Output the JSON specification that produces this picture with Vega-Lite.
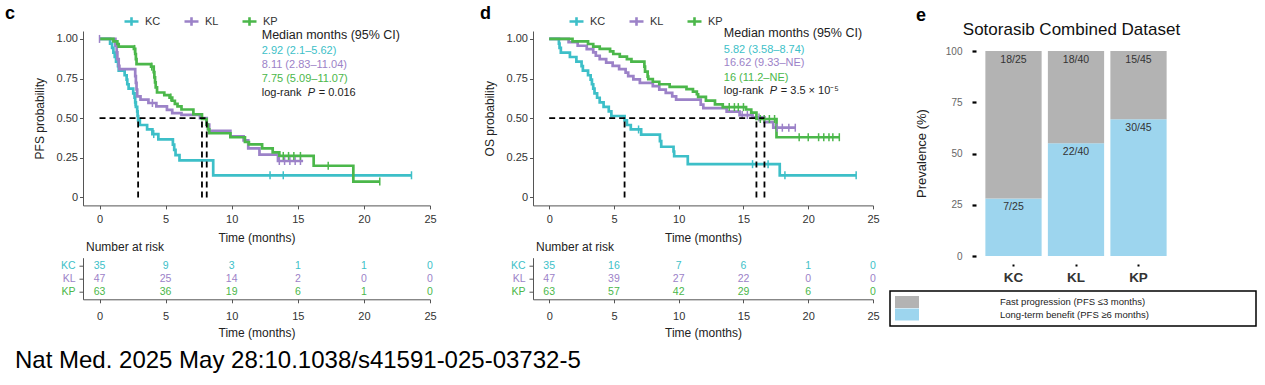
{
  "$schema": "https://vega.github.io/schema/vega-lite/v6.json",
  "background": "white",
  "padding": {"left": 5, "top": 5, "right": 5, "bottom": 5},
  "config": {
    "view": {"stroke": null},
    "font": "Liberation Sans",
    "axis": {"grid": false, "domainColor": "#555", "tickColor": "#555", "labelColor": "#333", "labelFontSize": 11, "titleFontSize": 12, "titleFontWeight": "normal", "titleColor": "#222", "tickSize": 3.5, "labelFont": "Liberation Sans", "titleFont": "Liberation Sans"}
  },
  "title": {"text": "Nat Med. 2025 May 28:10.1038/s41591-025-03732-5", "orient": "bottom", "anchor": "start", "frame": "group", "dx": -68, "offset": 10, "fontSize": 24, "fontWeight": "normal", "color": "#000", "font": "Liberation Sans"},
  "columns": 3,
  "bounds": "flush",
  "align": "each",
  "spacing": {"row": 1.7, "column": 103},
  "resolve": {"scale": {"color": "independent"}, "legend": {"color": "independent"}},
  "concat": [
    {
      "width": 347, "height": 174.4,
      "title": {"text": "c", "anchor": "start", "frame": "group", "dx": -78, "dy": 12, "offset": 2, "fontSize": 18, "fontWeight": "bold", "color": "#000"},
      "encoding": {
        "x": {"field": "t", "type": "quantitative", "scale": {"domain": [-1.25, 25], "nice": false, "zero": false}, "axis": {"values": [0, 5, 10, 15, 20, 25], "title": "Time (months)", "labelFlush": false, "labelPadding": 5, "titlePadding": 8}},
        "y": {"field": "s", "type": "quantitative", "scale": {"domain": [-0.05, 1.05], "nice": false, "zero": false}, "axis": {"values": [0, 0.25, 0.5, 0.75, 1], "labelExpr": "datum.value == 0 ? '0' : format(datum.value, '.2f')", "title": "PFS probability", "labelPadding": 2, "titlePadding": 10}}
      },
      "layer": [
        {"data": {"name": "pfs"}, "mark": {"type": "line", "interpolate": "step-after", "strokeWidth": 2.7},
         "encoding": {"color": {"field": "group", "type": "nominal", "scale": {"domain": ["KC", "KL", "KP"], "range": ["#3DBFC8", "#9C82C8", "#4BB74A"]},
           "legend": {"orient": "none", "legendX": 40, "legendY": -18, "direction": "horizontal", "title": null, "symbolType": "M-1,0H1M0,-0.6V0.6", "symbolSize": 196, "symbolStrokeWidth": 2.6, "labelFontSize": 11, "labelColor": "#333", "columnPadding": 18, "labelOffset": 5}}}},
        {"data": {"name": "pfs_cens"}, "mark": {"type": "point", "shape": "M0,-1V1", "size": 64, "strokeWidth": 1.5, "filled": false, "opacity": 1},
         "encoding": {"color": {"field": "group", "type": "nominal", "scale": {"domain": ["KC", "KL", "KP"], "range": ["#3DBFC8", "#9C82C8", "#4BB74A"]}}}},
        {"data": {"name": "pfs_med"}, "mark": {"type": "rule", "strokeDash": [6, 4], "strokeWidth": 1.8, "color": "#000"},
         "encoding": {"x2": {"field": "t2"}, "y2": {"field": "s2"}}},
        {"data": {"name": "pfs_txt"}, "transform": [{"filter": "datum.role === 'head'"}], "mark": {"type": "text", "align": "left", "baseline": "middle", "fontSize": 12.5, "color": "#222"}, "encoding": {"text": {"field": "text"}}},
        {"data": {"name": "pfs_txt"}, "transform": [{"filter": "datum.role === 'med'"}], "mark": {"type": "text", "align": "left", "baseline": "middle", "fontSize": 11},
         "encoding": {"text": {"field": "text"}, "color": {"field": "group", "type": "nominal", "scale": {"domain": ["KC", "KL", "KP"], "range": ["#3DBFC8", "#9C82C8", "#4BB74A"]}}}},
        {"data": {"name": "pfs_txt"}, "transform": [{"filter": "datum.role === 'lr1'"}], "mark": {"type": "text", "align": "left", "baseline": "middle", "fontSize": 11, "color": "#222"}, "encoding": {"text": {"field": "text"}}},
        {"data": {"name": "pfs_txt"}, "transform": [{"filter": "datum.role === 'lr2'"}], "mark": {"type": "text", "align": "left", "baseline": "middle", "fontSize": 11, "fontStyle": "italic", "dx": 46, "color": "#222"}, "encoding": {"text": {"field": "text"}}},
        {"data": {"name": "pfs_txt"}, "transform": [{"filter": "datum.role === 'lr3'"}], "mark": {"type": "text", "align": "left", "baseline": "middle", "fontSize": 11, "dx": 57, "color": "#222"}, "encoding": {"text": {"field": "text"}}}
      ]
    },
    {
      "width": 340, "height": 174.4,
      "title": {"text": "d", "anchor": "start", "frame": "group", "dx": -53, "dy": 12, "offset": 2, "fontSize": 18, "fontWeight": "bold", "color": "#000"},
      "encoding": {
        "x": {"field": "t", "type": "quantitative", "scale": {"domain": [-1.25, 25], "nice": false, "zero": false}, "axis": {"values": [0, 5, 10, 15, 20, 25], "title": "Time (months)", "labelFlush": false, "labelPadding": 5, "titlePadding": 8}},
        "y": {"field": "s", "type": "quantitative", "scale": {"domain": [-0.05, 1.05], "nice": false, "zero": false}, "axis": {"values": [0, 0.25, 0.5, 0.75, 1], "labelExpr": "datum.value == 0 ? '0' : format(datum.value, '.2f')", "title": "OS probability", "labelPadding": 2, "titlePadding": 10}}
      },
      "layer": [
        {"data": {"name": "os"}, "mark": {"type": "line", "interpolate": "step-after", "strokeWidth": 2.7},
         "encoding": {"color": {"field": "group", "type": "nominal", "scale": {"domain": ["KC", "KL", "KP"], "range": ["#3DBFC8", "#9C82C8", "#4BB74A"]},
           "legend": {"orient": "none", "legendX": 35, "legendY": -18, "direction": "horizontal", "title": null, "symbolType": "M-1,0H1M0,-0.6V0.6", "symbolSize": 196, "symbolStrokeWidth": 2.6, "labelFontSize": 11, "labelColor": "#333", "columnPadding": 18, "labelOffset": 5}}}},
        {"data": {"name": "os_cens"}, "mark": {"type": "point", "shape": "M0,-1V1", "size": 64, "strokeWidth": 1.5, "filled": false, "opacity": 1},
         "encoding": {"color": {"field": "group", "type": "nominal", "scale": {"domain": ["KC", "KL", "KP"], "range": ["#3DBFC8", "#9C82C8", "#4BB74A"]}}}},
        {"data": {"name": "os_med"}, "mark": {"type": "rule", "strokeDash": [6, 4], "strokeWidth": 1.8, "color": "#000"},
         "encoding": {"x2": {"field": "t2"}, "y2": {"field": "s2"}}},
        {"data": {"name": "os_txt"}, "transform": [{"filter": "datum.role === 'head'"}], "mark": {"type": "text", "align": "left", "baseline": "middle", "fontSize": 12.5, "color": "#222"}, "encoding": {"text": {"field": "text"}}},
        {"data": {"name": "os_txt"}, "transform": [{"filter": "datum.role === 'med'"}], "mark": {"type": "text", "align": "left", "baseline": "middle", "fontSize": 11},
         "encoding": {"text": {"field": "text"}, "color": {"field": "group", "type": "nominal", "scale": {"domain": ["KC", "KL", "KP"], "range": ["#3DBFC8", "#9C82C8", "#4BB74A"]}}}},
        {"data": {"name": "os_txt"}, "transform": [{"filter": "datum.role === 'lr1'"}], "mark": {"type": "text", "align": "left", "baseline": "middle", "fontSize": 11, "color": "#222"}, "encoding": {"text": {"field": "text"}}},
        {"data": {"name": "os_txt"}, "transform": [{"filter": "datum.role === 'lr2'"}], "mark": {"type": "text", "align": "left", "baseline": "middle", "fontSize": 11, "fontStyle": "italic", "dx": 46, "color": "#222"}, "encoding": {"text": {"field": "text"}}},
        {"data": {"name": "os_txt"}, "transform": [{"filter": "datum.role === 'lr3'"}], "mark": {"type": "text", "align": "left", "baseline": "middle", "fontSize": 11, "dx": 57, "color": "#222"}, "encoding": {"text": {"field": "text"}}}
      ]
    },
    {
      "width": 200, "height": 225,
      "title": {"text": "e", "anchor": "start", "frame": "group", "dx": -60, "dy": 5, "offset": 0, "fontSize": 18, "fontWeight": "bold", "color": "#000"},
      "data": {"name": "bars"},
      "transform": [{"stack": "pct", "groupby": ["group"], "sort": [{"field": "category", "order": "descending"}], "as": ["v0", "v1"]}],
      "layer": [
        {"mark": {"type": "bar"},
         "encoding": {
           "x": {"field": "group", "type": "nominal", "scale": {"domain": ["KC", "KL", "KP"], "paddingInner": 0.1, "paddingOuter": 0.15}, "axis": {"orient": "bottom", "offset": 8, "domain": false, "tickSize": 2, "tickWidth": 2, "tickColor": "#000", "labelFontSize": 13.5, "labelFontWeight": "bold", "labelColor": "#333", "labelPadding": 4, "labelAngle": 0, "title": null}},
           "y": {"field": "v0", "type": "quantitative", "scale": {"domain": [0, 109.76], "nice": false}, "axis": {"values": [0, 25, 50, 75, 100], "domain": false, "tickSize": 4, "tickWidth": 2.2, "tickColor": "#000", "labelColor": "#666", "labelFontSize": 10, "labelPadding": 10, "title": "Prevalence (%)", "titleFontSize": 13, "titleColor": "#222", "titleX": -55, "titleY": 122, "titleAlign": "center", "titleBaseline": "middle", "titleAngle": -90}},
           "y2": {"field": "v1"},
           "color": {"field": "category", "type": "nominal", "scale": {"domain": ["Fast progression (PFS ≤3 months)", "Long-term benefit (PFS ≥6 months)"], "range": ["#B3B3B3", "#9DD5EE"]},
             "legend": {"orient": "none", "legendX": -86, "legendY": 260, "direction": "vertical", "title": "\u00a0", "titleOrient": "right", "titlePadding": 102, "symbolType": "M-1,-1H3V1H-1Z", "symbolSize": 144, "symbolStrokeWidth": 0, "symbolOpacity": 1, "labelFontSize": 9.5, "labelOffset": 93, "rowPadding": 0.5, "padding": 5, "strokeColor": "#000", "fillColor": "#fff", "labelColor": "#222", "labelLimit": 400,
               "encode": {"legend": {"update": {"strokeWidth": {"value": 1.5}}}}}}
         }},
        {"mark": {"type": "text", "baseline": "top", "dy": 3.5, "fontSize": 10.5, "color": "#333"},
         "encoding": {
           "x": {"field": "group", "type": "nominal", "axis": {"orient": "top", "domain": false, "ticks": false, "labels": false, "title": "Sotorasib Combined Dataset", "titleFontSize": 17, "titleFontWeight": "normal", "titleColor": "#111", "titleY": 3, "titleX": 95, "titleBaseline": "alphabetic"}},
           "y": {"field": "v1", "type": "quantitative", "axis": {"values": [0, 25, 50, 75, 100], "domain": false, "tickSize": 4, "tickWidth": 2.2, "tickColor": "#000", "labelColor": "#666", "labelFontSize": 10, "labelPadding": 10, "title": "Prevalence (%)", "titleFontSize": 13, "titleColor": "#222", "titleX": -55, "titleY": 122, "titleAlign": "center", "titleBaseline": "middle", "titleAngle": -90}},
           "text": {"field": "label"}
         }}
      ],
      "resolve": {"axis": {"x": "independent"}}
    },
    {
      "width": 347, "height": 41.6,
      "title": {"text": "Number at risk", "anchor": "start", "frame": "group", "dx": 3, "offset": 4, "fontSize": 12, "fontWeight": "normal", "color": "#222"},
      "data": {"name": "pfs_risk"},
      "mark": {"type": "text", "fontSize": 10.5, "baseline": "middle"},
      "encoding": {
        "x": {"field": "t", "type": "quantitative", "scale": {"domain": [-1.25, 25], "nice": false, "zero": false}, "axis": {"values": [0, 5, 10, 15, 20, 25], "title": "Time (months)", "labelFlush": false, "labelPadding": 8, "titlePadding": 6}},
        "y": {"field": "group", "type": "nominal", "scale": {"type": "point", "domain": ["KC", "KL", "KP"], "padding": 0.6}, "axis": {"title": null, "tickSize": 4, "labelPadding": 4, "labelFontSize": 10.5, "labelColor": {"expr": "datum.value === 'KC' ? '#3DBFC8' : datum.value === 'KL' ? '#9C82C8' : '#4BB74A'"}}},
        "color": {"field": "group", "type": "nominal", "scale": {"domain": ["KC", "KL", "KP"], "range": ["#3DBFC8", "#9C82C8", "#4BB74A"]}, "legend": null},
        "text": {"field": "n", "type": "quantitative"}
      }
    },
    {
      "width": 340, "height": 41.6,
      "title": {"text": "Number at risk", "anchor": "start", "frame": "group", "dx": 3, "offset": 4, "fontSize": 12, "fontWeight": "normal", "color": "#222"},
      "data": {"name": "os_risk"},
      "mark": {"type": "text", "fontSize": 10.5, "baseline": "middle"},
      "encoding": {
        "x": {"field": "t", "type": "quantitative", "scale": {"domain": [-1.25, 25], "nice": false, "zero": false}, "axis": {"values": [0, 5, 10, 15, 20, 25], "title": "Time (months)", "labelFlush": false, "labelPadding": 8, "titlePadding": 6}},
        "y": {"field": "group", "type": "nominal", "scale": {"type": "point", "domain": ["KC", "KL", "KP"], "padding": 0.6}, "axis": {"title": null, "tickSize": 4, "labelPadding": 4, "labelFontSize": 10.5, "labelColor": {"expr": "datum.value === 'KC' ? '#3DBFC8' : datum.value === 'KL' ? '#9C82C8' : '#4BB74A'"}}},
        "color": {"field": "group", "type": "nominal", "scale": {"domain": ["KC", "KL", "KP"], "range": ["#3DBFC8", "#9C82C8", "#4BB74A"]}, "legend": null},
        "text": {"field": "n", "type": "quantitative"}
      }
    }
  ],
  "datasets": {
    "pfs": [
      {"group": "KC", "t": 0, "s": 1}, {"group": "KC", "t": 0.8, "s": 0.971}, {"group": "KC", "t": 0.95, "s": 0.943}, {"group": "KC", "t": 1.05, "s": 0.914}, {"group": "KC", "t": 1.15, "s": 0.886}, {"group": "KC", "t": 1.25, "s": 0.857}, {"group": "KC", "t": 1.4, "s": 0.829}, {"group": "KC", "t": 1.45, "s": 0.8}, {"group": "KC", "t": 1.9, "s": 0.771}, {"group": "KC", "t": 2.05, "s": 0.743}, {"group": "KC", "t": 2.1, "s": 0.714}, {"group": "KC", "t": 2.2, "s": 0.686}, {"group": "KC", "t": 2.55, "s": 0.657}, {"group": "KC", "t": 2.65, "s": 0.629}, {"group": "KC", "t": 2.7, "s": 0.6}, {"group": "KC", "t": 2.75, "s": 0.571}, {"group": "KC", "t": 2.85, "s": 0.543}, {"group": "KC", "t": 2.88, "s": 0.514}, {"group": "KC", "t": 2.92, "s": 0.486}, {"group": "KC", "t": 3.05, "s": 0.457}, {"group": "KC", "t": 3.6, "s": 0.429}, {"group": "KC", "t": 4.0, "s": 0.4}, {"group": "KC", "t": 4.45, "s": 0.366}, {"group": "KC", "t": 5.55, "s": 0.333}, {"group": "KC", "t": 5.65, "s": 0.3}, {"group": "KC", "t": 5.75, "s": 0.267}, {"group": "KC", "t": 6.05, "s": 0.234}, {"group": "KC", "t": 8.6, "s": 0.14}, {"group": "KC", "t": 23.6, "s": 0.14},
      {"group": "KL", "t": 0, "s": 1}, {"group": "KL", "t": 1.2, "s": 0.957}, {"group": "KL", "t": 1.3, "s": 0.915}, {"group": "KL", "t": 1.35, "s": 0.872}, {"group": "KL", "t": 1.45, "s": 0.83}, {"group": "KL", "t": 1.5, "s": 0.809}, {"group": "KL", "t": 2.7, "s": 0.766}, {"group": "KL", "t": 2.75, "s": 0.723}, {"group": "KL", "t": 2.8, "s": 0.681}, {"group": "KL", "t": 2.85, "s": 0.638}, {"group": "KL", "t": 3.1, "s": 0.617}, {"group": "KL", "t": 3.7, "s": 0.596}, {"group": "KL", "t": 4.3, "s": 0.574}, {"group": "KL", "t": 5.1, "s": 0.553}, {"group": "KL", "t": 5.5, "s": 0.532}, {"group": "KL", "t": 6.2, "s": 0.521}, {"group": "KL", "t": 7.6, "s": 0.5}, {"group": "KL", "t": 8.11, "s": 0.46}, {"group": "KL", "t": 8.3, "s": 0.42}, {"group": "KL", "t": 9.9, "s": 0.385}, {"group": "KL", "t": 10.9, "s": 0.36}, {"group": "KL", "t": 11.25, "s": 0.31}, {"group": "KL", "t": 12.1, "s": 0.27}, {"group": "KL", "t": 13.5, "s": 0.23}, {"group": "KL", "t": 15.4, "s": 0.23},
      {"group": "KP", "t": 0, "s": 1}, {"group": "KP", "t": 1.05, "s": 0.984}, {"group": "KP", "t": 1.35, "s": 0.968}, {"group": "KP", "t": 1.45, "s": 0.952}, {"group": "KP", "t": 2.6, "s": 0.937}, {"group": "KP", "t": 2.7, "s": 0.905}, {"group": "KP", "t": 2.75, "s": 0.873}, {"group": "KP", "t": 2.8, "s": 0.841}, {"group": "KP", "t": 3.9, "s": 0.825}, {"group": "KP", "t": 4.1, "s": 0.79}, {"group": "KP", "t": 4.15, "s": 0.758}, {"group": "KP", "t": 4.2, "s": 0.726}, {"group": "KP", "t": 4.25, "s": 0.694}, {"group": "KP", "t": 4.35, "s": 0.662}, {"group": "KP", "t": 4.9, "s": 0.646}, {"group": "KP", "t": 5.3, "s": 0.63}, {"group": "KP", "t": 5.5, "s": 0.61}, {"group": "KP", "t": 5.7, "s": 0.59}, {"group": "KP", "t": 5.9, "s": 0.575}, {"group": "KP", "t": 6.2, "s": 0.555}, {"group": "KP", "t": 7.1, "s": 0.525}, {"group": "KP", "t": 7.75, "s": 0.495}, {"group": "KP", "t": 8.1, "s": 0.46}, {"group": "KP", "t": 8.2, "s": 0.43}, {"group": "KP", "t": 8.3, "s": 0.405}, {"group": "KP", "t": 9.9, "s": 0.38}, {"group": "KP", "t": 11.0, "s": 0.35}, {"group": "KP", "t": 11.3, "s": 0.335}, {"group": "KP", "t": 12.3, "s": 0.31}, {"group": "KP", "t": 13.1, "s": 0.285}, {"group": "KP", "t": 13.6, "s": 0.262}, {"group": "KP", "t": 16.2, "s": 0.2}, {"group": "KP", "t": 19.2, "s": 0.1}, {"group": "KP", "t": 21.2, "s": 0.1}
    ],
    "pfs_cens": [
      {"group": "KC", "t": 2.7, "s": 0.6}, {"group": "KC", "t": 4.1, "s": 0.4}, {"group": "KC", "t": 12.9, "s": 0.14}, {"group": "KC", "t": 13.9, "s": 0.14}, {"group": "KC", "t": 23.6, "s": 0.14},
      {"group": "KL", "t": 0, "s": 1}, {"group": "KL", "t": 4.0, "s": 0.596}, {"group": "KL", "t": 13.6, "s": 0.23}, {"group": "KL", "t": 14.0, "s": 0.23}, {"group": "KL", "t": 14.4, "s": 0.23}, {"group": "KL", "t": 14.8, "s": 0.23}, {"group": "KL", "t": 15.2, "s": 0.23},
      {"group": "KP", "t": 2.65, "s": 0.937}, {"group": "KP", "t": 3.95, "s": 0.825}, {"group": "KP", "t": 5.4, "s": 0.63}, {"group": "KP", "t": 13.9, "s": 0.262}, {"group": "KP", "t": 14.3, "s": 0.262}, {"group": "KP", "t": 14.7, "s": 0.262}, {"group": "KP", "t": 15.2, "s": 0.262}, {"group": "KP", "t": 17.3, "s": 0.2}, {"group": "KP", "t": 21.2, "s": 0.1}
    ],
    "pfs_med": [
      {"t": 0, "t2": 8.11, "s": 0.5, "s2": 0.5}, {"t": 2.92, "t2": 2.92, "s": 0, "s2": 0.5}, {"t": 7.75, "t2": 7.75, "s": 0, "s2": 0.5}, {"t": 8.11, "t2": 8.11, "s": 0, "s2": 0.5}
    ],
    "pfs_txt": [
      {"t": 12.27, "s": 1.023, "text": "Median months (95% CI)", "role": "head"},
      {"t": 12.27, "s": 0.924, "text": "2.92 (2.1–5.62)", "group": "KC", "role": "med"},
      {"t": 12.27, "s": 0.834, "text": "8.11 (2.83–11.04)", "group": "KL", "role": "med"},
      {"t": 12.27, "s": 0.746, "text": "7.75 (5.09–11.07)", "group": "KP", "role": "med"},
      {"t": 12.27, "s": 0.658, "text": "log-rank", "role": "lr1"},
      {"t": 12.27, "s": 0.658, "text": "P", "role": "lr2"},
      {"t": 12.27, "s": 0.658, "text": "= 0.016", "role": "lr3"}
    ],
    "pfs_risk": [
      {"group": "KC", "t": 0, "n": 35}, {"group": "KC", "t": 5, "n": 9}, {"group": "KC", "t": 10, "n": 3}, {"group": "KC", "t": 15, "n": 1}, {"group": "KC", "t": 20, "n": 1}, {"group": "KC", "t": 25, "n": 0},
      {"group": "KL", "t": 0, "n": 47}, {"group": "KL", "t": 5, "n": 25}, {"group": "KL", "t": 10, "n": 14}, {"group": "KL", "t": 15, "n": 2}, {"group": "KL", "t": 20, "n": 0}, {"group": "KL", "t": 25, "n": 0},
      {"group": "KP", "t": 0, "n": 63}, {"group": "KP", "t": 5, "n": 36}, {"group": "KP", "t": 10, "n": 19}, {"group": "KP", "t": 15, "n": 6}, {"group": "KP", "t": 20, "n": 1}, {"group": "KP", "t": 25, "n": 0}
    ],
    "os": [
      {"group": "KC", "t": 0, "s": 1}, {"group": "KC", "t": 0.75, "s": 0.971}, {"group": "KC", "t": 0.8, "s": 0.943}, {"group": "KC", "t": 0.9, "s": 0.914}, {"group": "KC", "t": 1.6, "s": 0.886}, {"group": "KC", "t": 2.1, "s": 0.857}, {"group": "KC", "t": 2.5, "s": 0.829}, {"group": "KC", "t": 2.6, "s": 0.8}, {"group": "KC", "t": 3.0, "s": 0.771}, {"group": "KC", "t": 3.2, "s": 0.743}, {"group": "KC", "t": 3.3, "s": 0.714}, {"group": "KC", "t": 3.4, "s": 0.686}, {"group": "KC", "t": 3.5, "s": 0.657}, {"group": "KC", "t": 3.7, "s": 0.629}, {"group": "KC", "t": 3.9, "s": 0.6}, {"group": "KC", "t": 4.2, "s": 0.571}, {"group": "KC", "t": 4.6, "s": 0.543}, {"group": "KC", "t": 4.8, "s": 0.514}, {"group": "KC", "t": 5.82, "s": 0.486}, {"group": "KC", "t": 6.0, "s": 0.457}, {"group": "KC", "t": 6.3, "s": 0.429}, {"group": "KC", "t": 7.1, "s": 0.397}, {"group": "KC", "t": 8.55, "s": 0.355}, {"group": "KC", "t": 8.65, "s": 0.32}, {"group": "KC", "t": 9.6, "s": 0.29}, {"group": "KC", "t": 9.65, "s": 0.26}, {"group": "KC", "t": 10.7, "s": 0.21}, {"group": "KC", "t": 17.8, "s": 0.14}, {"group": "KC", "t": 23.7, "s": 0.14},
      {"group": "KL", "t": 0, "s": 1}, {"group": "KL", "t": 1.5, "s": 0.979}, {"group": "KL", "t": 2.2, "s": 0.957}, {"group": "KL", "t": 2.9, "s": 0.936}, {"group": "KL", "t": 3.4, "s": 0.915}, {"group": "KL", "t": 3.6, "s": 0.894}, {"group": "KL", "t": 3.9, "s": 0.872}, {"group": "KL", "t": 4.4, "s": 0.851}, {"group": "KL", "t": 4.9, "s": 0.83}, {"group": "KL", "t": 5.4, "s": 0.809}, {"group": "KL", "t": 5.9, "s": 0.787}, {"group": "KL", "t": 6.1, "s": 0.766}, {"group": "KL", "t": 6.5, "s": 0.745}, {"group": "KL", "t": 7.0, "s": 0.723}, {"group": "KL", "t": 8.0, "s": 0.702}, {"group": "KL", "t": 8.5, "s": 0.68}, {"group": "KL", "t": 9.0, "s": 0.66}, {"group": "KL", "t": 9.5, "s": 0.638}, {"group": "KL", "t": 9.8, "s": 0.617}, {"group": "KL", "t": 11.7, "s": 0.585}, {"group": "KL", "t": 11.9, "s": 0.563}, {"group": "KL", "t": 13.7, "s": 0.541}, {"group": "KL", "t": 14.7, "s": 0.52}, {"group": "KL", "t": 15.7, "s": 0.505}, {"group": "KL", "t": 16.62, "s": 0.475}, {"group": "KL", "t": 17.3, "s": 0.44}, {"group": "KL", "t": 19.0, "s": 0.44},
      {"group": "KP", "t": 0, "s": 1}, {"group": "KP", "t": 1.8, "s": 0.984}, {"group": "KP", "t": 3.0, "s": 0.968}, {"group": "KP", "t": 3.4, "s": 0.952}, {"group": "KP", "t": 3.9, "s": 0.937}, {"group": "KP", "t": 4.7, "s": 0.921}, {"group": "KP", "t": 4.95, "s": 0.905}, {"group": "KP", "t": 5.45, "s": 0.889}, {"group": "KP", "t": 6.0, "s": 0.873}, {"group": "KP", "t": 6.35, "s": 0.857}, {"group": "KP", "t": 7.35, "s": 0.825}, {"group": "KP", "t": 7.4, "s": 0.794}, {"group": "KP", "t": 7.6, "s": 0.762}, {"group": "KP", "t": 7.65, "s": 0.746}, {"group": "KP", "t": 8.0, "s": 0.73}, {"group": "KP", "t": 8.5, "s": 0.714}, {"group": "KP", "t": 9.3, "s": 0.698}, {"group": "KP", "t": 10.6, "s": 0.683}, {"group": "KP", "t": 11.1, "s": 0.667}, {"group": "KP", "t": 11.4, "s": 0.651}, {"group": "KP", "t": 11.5, "s": 0.635}, {"group": "KP", "t": 12.1, "s": 0.611}, {"group": "KP", "t": 12.8, "s": 0.587}, {"group": "KP", "t": 13.4, "s": 0.57}, {"group": "KP", "t": 15.2, "s": 0.555}, {"group": "KP", "t": 15.6, "s": 0.535}, {"group": "KP", "t": 16.0, "s": 0.495}, {"group": "KP", "t": 17.55, "s": 0.38}, {"group": "KP", "t": 22.4, "s": 0.38}
    ],
    "os_cens": [
      {"group": "KC", "t": 6.9, "s": 0.429}, {"group": "KC", "t": 15.7, "s": 0.21}, {"group": "KC", "t": 16.9, "s": 0.21}, {"group": "KC", "t": 18.2, "s": 0.14}, {"group": "KC", "t": 23.7, "s": 0.14},
      {"group": "KL", "t": 14.9, "s": 0.52}, {"group": "KL", "t": 15.3, "s": 0.52}, {"group": "KL", "t": 16.2, "s": 0.505}, {"group": "KL", "t": 17.6, "s": 0.44}, {"group": "KL", "t": 18.0, "s": 0.44}, {"group": "KL", "t": 18.5, "s": 0.44}, {"group": "KL", "t": 19.0, "s": 0.44},
      {"group": "KP", "t": 13.9, "s": 0.57}, {"group": "KP", "t": 14.3, "s": 0.57}, {"group": "KP", "t": 14.6, "s": 0.57}, {"group": "KP", "t": 15.0, "s": 0.57}, {"group": "KP", "t": 16.3, "s": 0.495}, {"group": "KP", "t": 16.6, "s": 0.495}, {"group": "KP", "t": 17.0, "s": 0.495}, {"group": "KP", "t": 17.4, "s": 0.495}, {"group": "KP", "t": 19.3, "s": 0.38}, {"group": "KP", "t": 20.0, "s": 0.38}, {"group": "KP", "t": 20.8, "s": 0.38}, {"group": "KP", "t": 21.2, "s": 0.38}, {"group": "KP", "t": 21.6, "s": 0.38}, {"group": "KP", "t": 21.9, "s": 0.38}, {"group": "KP", "t": 22.4, "s": 0.38}
    ],
    "os_med": [
      {"t": 0, "t2": 16.62, "s": 0.5, "s2": 0.5}, {"t": 5.82, "t2": 5.82, "s": 0, "s2": 0.5}, {"t": 16.0, "t2": 16.0, "s": 0, "s2": 0.5}, {"t": 16.62, "t2": 16.62, "s": 0, "s2": 0.5}
    ],
    "os_txt": [
      {"t": 13.48, "s": 1.035, "text": "Median months (95% CI)", "role": "head"},
      {"t": 13.48, "s": 0.933, "text": "5.82 (3.58–8.74)", "group": "KC", "role": "med"},
      {"t": 13.48, "s": 0.849, "text": "16.62 (9.33–NE)", "group": "KL", "role": "med"},
      {"t": 13.48, "s": 0.755, "text": "16 (11.2–NE)", "group": "KP", "role": "med"},
      {"t": 13.48, "s": 0.671, "text": "log-rank", "role": "lr1"},
      {"t": 13.48, "s": 0.671, "text": "P", "role": "lr2"},
      {"t": 13.48, "s": 0.671, "text": "= 3.5 × 10⁻⁵", "role": "lr3"}
    ],
    "os_risk": [
      {"group": "KC", "t": 0, "n": 35}, {"group": "KC", "t": 5, "n": 16}, {"group": "KC", "t": 10, "n": 7}, {"group": "KC", "t": 15, "n": 6}, {"group": "KC", "t": 20, "n": 1}, {"group": "KC", "t": 25, "n": 0},
      {"group": "KL", "t": 0, "n": 47}, {"group": "KL", "t": 5, "n": 39}, {"group": "KL", "t": 10, "n": 27}, {"group": "KL", "t": 15, "n": 22}, {"group": "KL", "t": 20, "n": 0}, {"group": "KL", "t": 25, "n": 0},
      {"group": "KP", "t": 0, "n": 63}, {"group": "KP", "t": 5, "n": 57}, {"group": "KP", "t": 10, "n": 42}, {"group": "KP", "t": 15, "n": 29}, {"group": "KP", "t": 20, "n": 6}, {"group": "KP", "t": 25, "n": 0}
    ],
    "bars": [
      {"group": "KC", "category": "Long-term benefit (PFS ≥6 months)", "pct": 28, "label": "7/25"},
      {"group": "KC", "category": "Fast progression (PFS ≤3 months)", "pct": 72, "label": "18/25"},
      {"group": "KL", "category": "Long-term benefit (PFS ≥6 months)", "pct": 55, "label": "22/40"},
      {"group": "KL", "category": "Fast progression (PFS ≤3 months)", "pct": 45, "label": "18/40"},
      {"group": "KP", "category": "Long-term benefit (PFS ≥6 months)", "pct": 66.67, "label": "30/45"},
      {"group": "KP", "category": "Fast progression (PFS ≤3 months)", "pct": 33.33, "label": "15/45"}
    ]
  }
}
